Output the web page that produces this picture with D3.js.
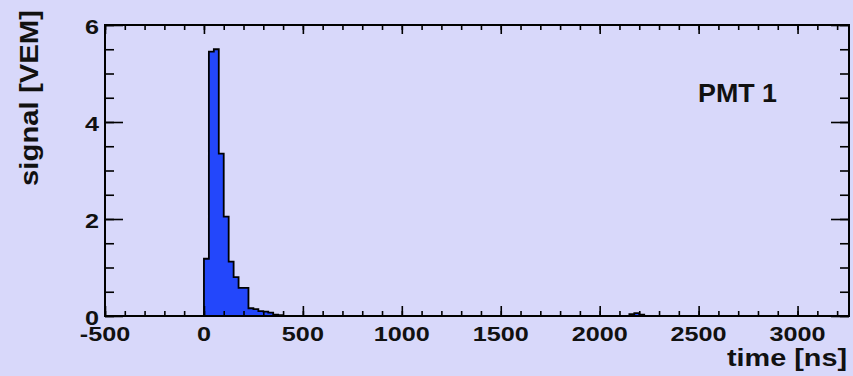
<!DOCTYPE html>
<html lang="en">
    <head>
        <meta charset="utf-8">
        <title>PMT 1 trace</title>
        <script src="https://d3js.org/d3.v7.min.js"></script>
        <style type="text/css">
            body { margin: 0; background: #d8d8fa; }
            text { font-family: "Liberation Sans", Arial, sans-serif; font-weight: bold; fill: #111; }
            .axis path { display: none; }
            .axis line { stroke: #000; stroke-width: 1.6; }
        </style>
    </head>
    <body>
        <svg id="trace" width="853" height="376"></svg>
        <script>
            // bin start times [ns] (25 ns bins) and signal [VEM]
            var binStart = [0, 25, 50, 75, 100, 125, 150, 175, 200, 225, 250, 275, 300, 325, 350, 375, 2150, 2175, 2200];
            var binValue = [1.18, 5.45, 5.5, 3.35, 2.05, 1.12, 0.8, 0.58, 0.58, 0.16, 0.14, 0.1, 0.09, 0.07, 0.03, 0.02, 0.04, 0.06, 0.03];
            var binWidth = 25;

            var xMajor = [-500, 0, 500, 1000, 1500, 2000, 2500, 3000];
            var yMajor = [0, 2, 4, 6];

            var xTitle = 'time [ns]';
            var yTitle = 'signal [VEM]';
            var label = 'PMT 1';

            var svg = d3.select('#trace');
            var padL = 105, padR = 849, padT = 25, padB = 316;

            var x = d3.scaleLinear().domain([-500, 3260]).range([padL, padR]);
            var y = d3.scaleLinear().domain([0, 6]).range([padB, padT]);

            var xMinor = d3.range(-500, 3261, 100);
            var yMinor = d3.range(0, 6.01, 0.5);

            //histogram bins
            var bins = binStart.map(function(d, i) { return {t0: d, t1: d + binWidth, v: binValue[i]}; });

            //group contiguous bins into runs so the outline is one step path
            var runs = [];
            bins.forEach(function(b) {
                var last = runs[runs.length - 1];
                if (last && last[last.length - 1].t1 === b.t0) last.push(b);
                else runs.push([b]);
            });

            var line = d3.line().x(function(p) { return x(p[0]); }).y(function(p) { return y(p[1]); });
            runs.forEach(function(run) {
                var pts = [[run[0].t0, 0]];
                run.forEach(function(b) { pts.push([b.t0, b.v]); pts.push([b.t1, b.v]); });
                pts.push([run[run.length - 1].t1, 0]);
                svg.append('path')
                    .attr('d', line(pts))
                    .attr('fill', '#2347fb')
                    .attr('stroke', '#000')
                    .attr('stroke-width', 1.8);
            });

            //ticks, ROOT style (inward, mirrored)
            function ticks(axis, vals, size, tr) {
                svg.append('g').attr('class', 'axis').attr('transform', tr)
                    .call(axis.tickValues(vals).tickSize(size).tickSizeOuter(0).tickFormat(''));
            }
            ticks(d3.axisBottom(x), xMinor, -5, 'translate(0,' + padB + ')');
            ticks(d3.axisBottom(x), xMajor, -10, 'translate(0,' + padB + ')');
            ticks(d3.axisTop(x), xMinor, -5, 'translate(0,' + padT + ')');
            ticks(d3.axisTop(x), xMajor, -9, 'translate(0,' + padT + ')');
            ticks(d3.axisLeft(y), yMinor, -9, 'translate(' + padL + ',0)');
            ticks(d3.axisLeft(y), yMajor, -18, 'translate(' + padL + ',0)');
            ticks(d3.axisRight(y), yMinor, -9, 'translate(' + padR + ',0)');
            ticks(d3.axisRight(y), yMajor, -18, 'translate(' + padR + ',0)');

            //tick labels
            var sx = 1.2;
            svg.append('g').selectAll('text')
                .data(xMajor).enter().append('text')
                .attr('transform', function(d) { return 'translate(' + x(d) + ',341) scale(' + sx + ',1)'; })
                .attr('text-anchor', 'middle')
                .style('font-size', '21px')
                .text(function(d) { return d; });

            svg.append('g').selectAll('text')
                .data(yMajor).enter().append('text')
                .attr('transform', function(d) { return 'translate(99,' + y(d) + ') scale(' + sx + ',1)'; })
                .attr('text-anchor', 'end')
                .attr('dy', '0.42em')
                .style('font-size', '21px')
                .text(function(d) { return d; });

            //frame
            svg.append('rect')
                .attr('x', padL).attr('y', padT)
                .attr('width', padR - padL).attr('height', padB - padT)
                .attr('fill', 'none').attr('stroke', '#000').attr('stroke-width', 2);

            //titles
            svg.append('text')
                .attr('x', 847).attr('y', 366)
                .attr('text-anchor', 'end')
                .attr('textLength', 120).attr('lengthAdjust', 'spacingAndGlyphs')
                .style('font-size', '24px')
                .text(xTitle);

            svg.append('text')
                .attr('transform', 'translate(38,10) rotate(-90)')
                .attr('text-anchor', 'end')
                .attr('textLength', 176).attr('lengthAdjust', 'spacingAndGlyphs')
                .style('font-size', '26px')
                .text(yTitle);

            svg.append('text')
                .attr('x', 698).attr('y', 102)
                .attr('textLength', 79).attr('lengthAdjust', 'spacingAndGlyphs')
                .style('font-size', '25px')
                .text(label);
        </script>
    </body>
</html>
